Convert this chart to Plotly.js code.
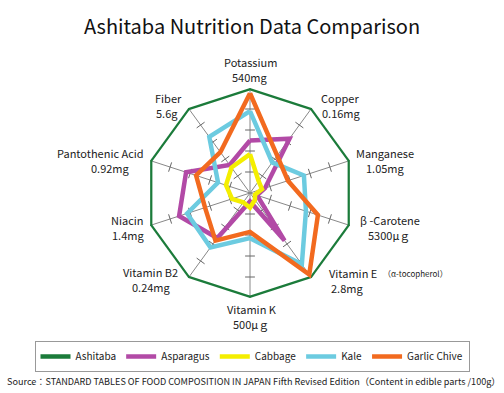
<!DOCTYPE html>
<html>
<head>
<meta charset="utf-8">
<script src="https://cdn.plot.ly/plotly-3.0.1.min.js"></script>
<style>html,body{margin:0;padding:0;background:#fff;}#chart{width:504px;height:393px;}</style>
</head>
<body>
<div id="chart"></div>
<script>
// Nutrients (clockwise from top) and the Ashitaba content that each axis is scaled to
var categories = ["Potassium", "Copper", "Manganese", "β-Carotene", "Vitamin E", "Vitamin K", "Vitamin B2", "Niacin", "Pantothenic Acid", "Fiber"];
var categoryLabels = ["Potassium", "Copper", "Manganese", "β -Carotene", "Vitamin E", "Vitamin K", "Vitamin B2", "Niacin", "Pantothenic Acid", "Fiber"];
var amounts = ["540mg", "0.16mg", "1.05mg", "5300μｇ", "2.8mg", "500μｇ", "0.24mg", "1.4mg", "0.92mg", "5.6g"];
var vitaminENote = "（α-tocopherol）";

// Values relative to Ashitaba (= 1)
var ashitaba    = [1, 1, 1, 1, 1, 1, 1, 1, 1, 1];
var asparagus   = [0.50, 0.64, 0.15, 0.07, 0.56, 0.08, 0.53, 0.71, 0.64, 0.33];
var cabbage     = [0.37, 0.14, 0.12, 0.05, 0.08, 0.14, 0.11, 0.18, 0.24, 0.30];
var kale        = [0.78, 0.36, 0.54, 0.56, 0.84, 0.43, 0.64, 0.63, 0.32, 0.66];
var garlicChive = [0.95, 0.44, 0.38, 0.68, 0.96, 0.37, 0.56, 0.45, 0.54, 0.48];

var seriesNames = ["Ashitaba", "Asparagus", "Cabbage", "Kale", "Garlic Chive"];
var seriesValues = [ashitaba, asparagus, cabbage, kale, garlicChive];
var seriesColors = ["#1b7b3a", "#b24aa6", "#f4ee00", "#6ccbe0", "#f26a1f"];

var tickSteps = [0.2, 0.4, 0.6, 0.8];

var FONT = "'Noto Sans CJK JP', 'Noto Sans', sans-serif";
var W = 504, H = 393;

// label line centres in pixels (layout only): [nameX, nameY, amountX, amountY]
var labelPx = [
  [250, 62, 250, 77], [340, 98, 341, 113], [385, 153, 385, 168], [390, 220, 389, 235],
  [353, 273, 347, 288], [252, 309, 251, 324], [150, 272, 151, 287], [127, 220, 128, 235],
  [100, 153, 110, 168], [168, 98, 167, 113]
];

// small tick marks across every spoke
var tr = [], tt = [], ta = [];
categories.forEach(function (c, i) {
  tickSteps.forEach(function (s) {
    tr.push(s); tt.push(c); ta.push(i * 360 / categories.length);
  });
});
var traces = [{
  type: "scatterpolar", mode: "markers", r: tr, theta: tt,
  marker: { symbol: "line-ew-open", size: 7, angle: ta, color: "#666", line: { color: "#666", width: 1 } },
  showlegend: false, hoverinfo: "skip"
}];

seriesNames.forEach(function (name, k) {
  var v = seriesValues[k];
  traces.push({
    type: "scatterpolar", mode: "lines", name: name,
    r: v.concat([v[0]]), theta: categories.concat([categories[0]]),
    line: { color: seriesColors[k], width: 4.5, shape: "linear" }
  });
});

function ann(text, x, y, size, xanchor) {
  return {
    xref: "paper", yref: "paper", x: x / W, y: 1 - y / H,
    xanchor: xanchor || "center", yanchor: "middle", showarrow: false,
    text: text, font: { family: FONT, size: size, color: "#222" }
  };
}
var annotations = [];
categories.forEach(function (c, i) {
  var p = labelPx[i];
  annotations.push(ann(categoryLabels[i], p[0], p[1], 11));
  annotations.push(ann(amounts[i], p[2], p[3], 11));
});
annotations.push(ann(vitaminENote, 381, 273, 8, "left"));
annotations.push(ann("Source：STANDARD TABLES OF FOOD COMPOSITION IN JAPAN Fifth Revised Edition（Content in edible parts /100g）", 253, 381, 9.1));

var layout = {
  width: W, height: H,
  margin: { l: 0, r: 0, t: 0, b: 0 },
  paper_bgcolor: "#fff",
  font: { family: FONT, color: "#222", size: 11 },
  title: {
    text: "Ashitaba Nutrition Data Comparison",
    font: { family: FONT, size: 20, color: "#111" },
    x: 0.5, xanchor: "center", y: 1 - 27 / H, yanchor: "middle"
  },
  polar: {
    domain: { x: [145 / W, 355 / W], y: [(H - 298) / H, (H - 88) / H] },
    bgcolor: "rgba(0,0,0,0)",
    gridshape: "linear",
    radialaxis: { range: [0, 1], visible: false, showgrid: false },
    angularaxis: {
      type: "category",
      categoryarray: categories,
      rotation: 90, direction: "clockwise",
      showline: false, showgrid: true, gridcolor: "#888", gridwidth: 1,
      ticks: "", showticklabels: false
    }
  },
  showlegend: true,
  legend: {
    orientation: "h", x: 0.5, xanchor: "center", y: 52 / H, yanchor: "top",
    bordercolor: "#999", borderwidth: 1, bgcolor: "#fff",
    font: { family: FONT, size: 10, color: "#222" },
    itemwidth: 30
  },
  annotations: annotations
};

Plotly.newPlot("chart", traces, layout, { staticPlot: true, displayModeBar: false });
</script>
</body>
</html>
